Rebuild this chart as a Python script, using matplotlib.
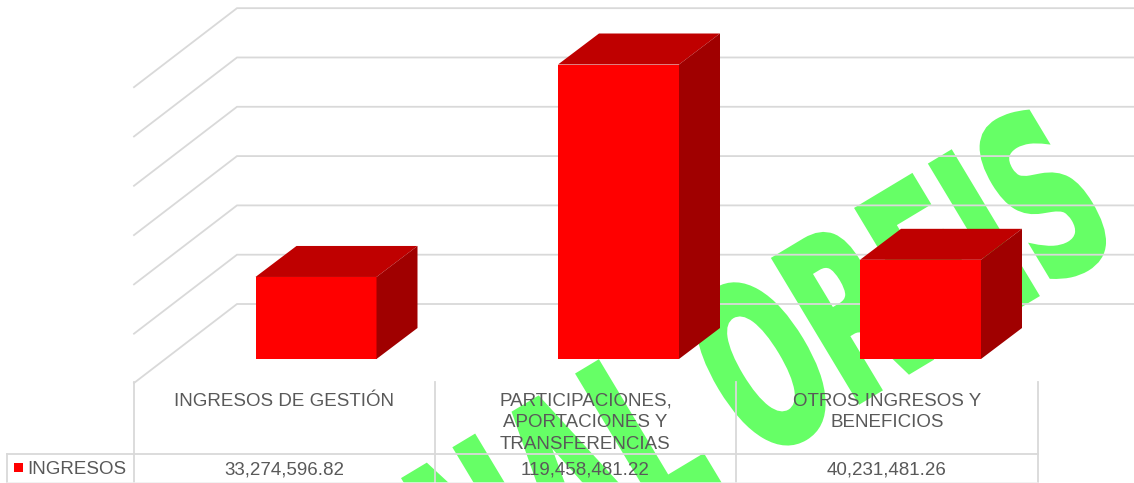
import matplotlib
matplotlib.use('Agg')
import matplotlib.pyplot as plt
from matplotlib.patches import Polygon, Rectangle
from matplotlib.patheffects import AbstractPathEffect
from matplotlib.transforms import Affine2D

categories = ['INGRESOS DE GESTIÓN',
              'PARTICIPACIONES,\nAPORTACIONES Y\nTRANSFERENCIAS',
              'OTROS INGRESOS Y\nBENEFICIOS']
ingresos = [33274596.82, 119458481.22, 40231481.26]
ingresos_labels = ['33,274,596.82', '119,458,481.22', '40,231,481.26']
series_name = 'INGRESOS'
grid_values = [0, 20e6, 40e6, 60e6, 80e6, 100e6, 120e6]

W, H = 1134, 483
GRAY = '#D9D9D9'
TEXT = '#595959'
GREEN = '#66FF66'
scale = (359 - 64.5) / ingresos[1]  # pixels per peso


# squeezes the glyphs along the baseline and fattens them, the watermark is a heavy condensed face
class Squeeze(AbstractPathEffect):
    def __init__(self, sx, lw):
        self.sx = sx
        self.lw = lw

    def draw_path(self, renderer, gc, tpath, affine, rgbFace=None):
        gc0 = renderer.new_gc()
        gc0.copy_properties(gc)
        gc0.set_linewidth(self.lw)
        gc0.set_foreground(rgbFace)
        gc0.set_joinstyle('miter')
        renderer.draw_path(gc0, tpath, Affine2D().scale(self.sx, 1) + affine, rgbFace)
        gc0.restore()


# y position in value units for a pixel row of the picture
def val(py):
    return (359 - py) / scale


fig = plt.figure(figsize=(W / 100, H / 100), dpi=100)
ax = fig.add_axes([0, 0, 1, 1])
ax.set_xlim(0, W)
ax.set_ylim(val(H), val(0))
ax.axis('off')
plt.rcParams['font.family'] = ['Liberation Sans', 'DejaVu Sans']

# watermark, behind everything
for word, x, y in [('NAL', 480, 628), ('ORFIS', 758, 463)]:
    ax.text(x, val(y), word, color=GREEN, family='DejaVu Sans', weight='bold',
            fontsize=165, rotation=31, rotation_mode='anchor', ha='left', va='baseline',
            zorder=1, path_effects=[Squeeze(0.55, 3)])

# back wall and side wall lines
for v in grid_values:
    back = v + val(304)
    front = back + val(359 + 79)
    ax.plot([134, 237, W], [front, back, back], color=GRAY, lw=1.3, zorder=2,
            solid_joinstyle='miter')

# 3d columns
bar_left = [255.5, 558, 860]
bar_w = 121
dx, dy = 41, 31 / scale
for left, v in zip(bar_left, ingresos):
    right = left + bar_w
    ax.add_patch(Polygon([(left, 0), (right, 0), (right, v), (left, v)], fc='#FF0000', ec='none', zorder=3))
    ax.add_patch(Polygon([(left, v), (right, v), (right + dx, v + dy), (left + dx, v + dy)],
                         fc='#BF0000', ec='none', zorder=3))
    ax.add_patch(Polygon([(right, 0), (right + dx, dy), (right + dx, v + dy), (right, v)],
                         fc='#A00000', ec='none', zorder=3))

# data table
col_x = [134, 435, 736, 1038]
for x in col_x:
    ax.plot([x, x], [val(382), val(H)], color=GRAY, lw=1.3, zorder=4)
ax.plot([7, 7], [val(454), val(H)], color=GRAY, lw=1.3, zorder=4)
ax.plot([7, 1038], [val(454), val(454)], color=GRAY, lw=1.3, zorder=4)
ax.plot([7, 1038], [val(482.5), val(482.5)], color='#EFEFEF', lw=1.1, zorder=4)

for i, (cat, lab) in enumerate(zip(categories, ingresos_labels)):
    cx = (col_x[i] + col_x[i + 1]) / 2
    ax.text(cx, val(393), cat, color=TEXT, fontsize=13.5, ha='center', va='top',
            linespacing=1.34, zorder=5)
    ax.text(cx, val(470), lab, color=TEXT, fontsize=13.5, ha='center', va='center', zorder=5)

ax.add_patch(Rectangle((14, val(472)), 9, 9 / scale, fc='#FF0000', ec='none', zorder=5))
ax.text(27, val(469), series_name, color=TEXT, fontsize=13.5, ha='left', va='center', zorder=5)

fig.savefig('out.png', dpi=100)
